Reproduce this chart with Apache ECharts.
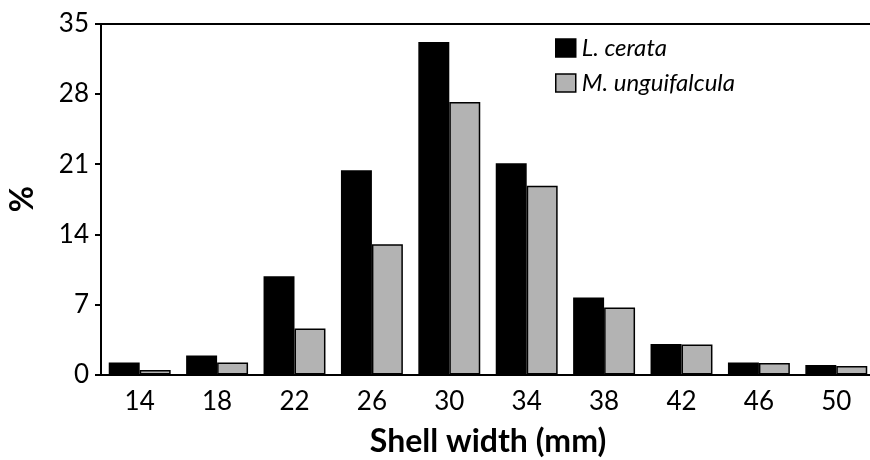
<!DOCTYPE html>
<html>
<head>
<meta charset="utf-8">
<script src="https://cdn.jsdelivr.net/npm/echarts@6/dist/echarts.min.js"></script>
<style>html,body{margin:0;padding:0;background:#fff}#c{width:870px;height:460px}</style>
</head>
<body>
<div id="c"></div>
<script>
const categories = ['14','18','22','26','30','34','38','42','46','50'];
const lCerata = [1.2, 1.9, 9.8, 20.4, 33.2, 21.1, 7.7, 3.05, 1.2, 0.95];
const mUnguifalcula = [0.45, 1.2, 4.6, 13.0, 27.2, 18.85, 6.7, 3.0, 1.15, 0.85];
const seriesNames = ['L. cerata', 'M. unguifalcula'];
const yTicks = [0, 7, 14, 21, 28, 35];

const FONT = 'Lato';
const chart = echarts.init(document.getElementById('c'), null, {renderer: 'canvas'});
chart.setOption({
  animation: false,
  backgroundColor: '#fff',
  textStyle: {fontFamily: FONT, color: '#000'},
  legend: {
    data: seriesNames,
    orient: 'vertical',
    left: 550, top: 31,
    icon: 'rect',
    itemWidth: 20, itemHeight: 18, itemGap: 11,
    textStyle: {fontFamily: FONT, fontStyle: 'italic', fontSize: 24, color: '#000', padding: [0,0,0,1]},
    itemStyle: {borderColor: '#000', borderWidth: 1.5}
  },
  grid: {
    left: 101, top: 24, width: 774, height: 350.5,
    outerBoundsMode: 'none',
    containLabel: false,
    show: false
  },
  xAxis: [{
    type: 'category',
    data: categories,
    name: 'Shell width (mm)',
    nameLocation: 'middle',
    nameGap: 51,
    nameTextStyle: {fontFamily: FONT, fontWeight: 'bold', fontSize: 32, color: '#000'},
    axisLine: {lineStyle: {color: '#000', width: 2}},
    axisTick: {alignWithLabel: true, length: 8, lineStyle: {color: '#000', width: 2}},
    axisLabel: {fontFamily: FONT, fontSize: 26, color: '#000', margin: 14}
  }, {
    type: 'category',
    data: categories,
    position: 'top',
    axisLine: {show: true, lineStyle: {color: '#000', width: 2}},
    axisTick: {show: false},
    axisLabel: {show: false}
  }],
  yAxis: {
    type: 'value',
    min: yTicks[0], max: yTicks[yTicks.length - 1], interval: 7,
    name: '%',
    nameLocation: 'middle',
    nameGap: 62,
    nameTextStyle: {fontFamily: FONT, fontWeight: 'bold', fontSize: 32, color: '#000'},
    axisLine: {show: true, lineStyle: {color: '#000', width: 2}},
    axisTick: {show: true, length: 6, lineStyle: {color: '#000', width: 2}},
    axisLabel: {fontFamily: FONT, fontSize: 26, color: '#000', margin: 12},
    splitLine: {show: false}
  },
  series: [
    {
      name: seriesNames[0], type: 'bar', data: lCerata,
      barWidth: '40%', barGap: '0%',
      itemStyle: {color: '#000', borderColor: '#000', borderWidth: 1.5}
    },
    {
      name: seriesNames[1], type: 'bar', data: mUnguifalcula,
      barWidth: '40%', barGap: '0%',
      itemStyle: {color: '#b3b3b3', borderColor: '#000', borderWidth: 1.5}
    }
  ]
});
</script>
</body>
</html>
